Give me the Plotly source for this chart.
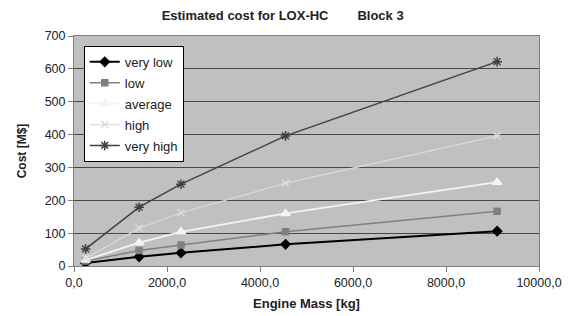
import plotly.graph_objects as go

mass = [250, 1400, 2300, 4550, 9100]
very_low = [9, 28, 40, 66, 106]
low = [15, 47, 64, 104, 167]
average = [18, 71, 104, 160, 255]
high = [23, 115, 162, 252, 396]
very_high = [52, 179, 249, 396, 622]

series = [
    ("very low", very_low, "#000000", "diamond", 7, 2),
    ("low", low, "#808080", "square", 6, 1.5),
    ("average", average, "#f4f4f4", "triangle-up", 8, 1.8),
    ("high", high, "#dcdcdc", "x-thin-open", 7, 1.2),
    ("very high", very_high, "#404040", "asterisk-open", 8, 1.5),
]

x_ticks = [0, 2000, 4000, 6000, 8000, 10000]
x_tick_labels = ["0,0", "2000,0", "4000,0", "6000,0", "8000,0", "10000,0"]
y_ticks = [0, 100, 200, 300, 400, 500, 600, 700]

fig = go.Figure()
for i, (name, vals, color, sym, size, lw) in enumerate(series):
    fig.add_trace(go.Scatter(
        x=mass, y=vals, name=name, mode="lines+markers",
        line=dict(color=color, width=lw),
        marker=dict(symbol=sym, size=size, color=color,
                    line=dict(color=color, width=1.5)),
        legendgroup=f"g{i}",
    ))

font = "Liberation Sans, Arial, sans-serif"
fig.update_layout(
    width=571, height=316,
    margin=dict(l=74, r=32, t=36, b=50, autoexpand=False),
    paper_bgcolor="white", plot_bgcolor="#c0c0c0",
    font=dict(family=font, size=12, color="#222222"),
    title=dict(text="<b>Estimated cost for LOX-HC        Block 3</b>",
               x=0.495, xanchor="center", y=0.95, yanchor="middle",
               font=dict(size=13, color="#222222"), automargin=False),
    showlegend=True,
    legend=dict(x=0.021, y=0.957, xanchor="left", yanchor="top",
                bgcolor="white", bordercolor="#000000", borderwidth=1,
                font=dict(size=13, color="#222222"), tracegroupgap=1,
                itemwidth=30),
    xaxis=dict(range=[0, 10000], tickvals=x_ticks, ticktext=x_tick_labels,
               showgrid=False, zeroline=False, ticks="outside", ticklen=5,
               tickcolor="#808080", showline=True, linecolor="#808080",
               linewidth=1, mirror=True, automargin=False,
               tickfont=dict(size=12.5),
               title=dict(text="<b>Engine Mass [kg]</b>", standoff=9,
                          font=dict(size=13))),
    yaxis=dict(range=[0, 700], tickvals=y_ticks, showgrid=True,
               gridcolor="#484848", gridwidth=1.4, zeroline=False,
               ticks="outside", ticklen=5, tickcolor="#808080",
               showline=True, linecolor="#808080", linewidth=1, mirror=True,
               automargin=False, tickfont=dict(size=12.5),
               title=dict(text="<b>Cost [M$]</b>", standoff=15,
                          font=dict(size=12))),
)

fig.write_html("out.html",
               config={"displayModeBar": False},
               post_script="document.body.style.margin='0';document.body.style.padding='0';")
